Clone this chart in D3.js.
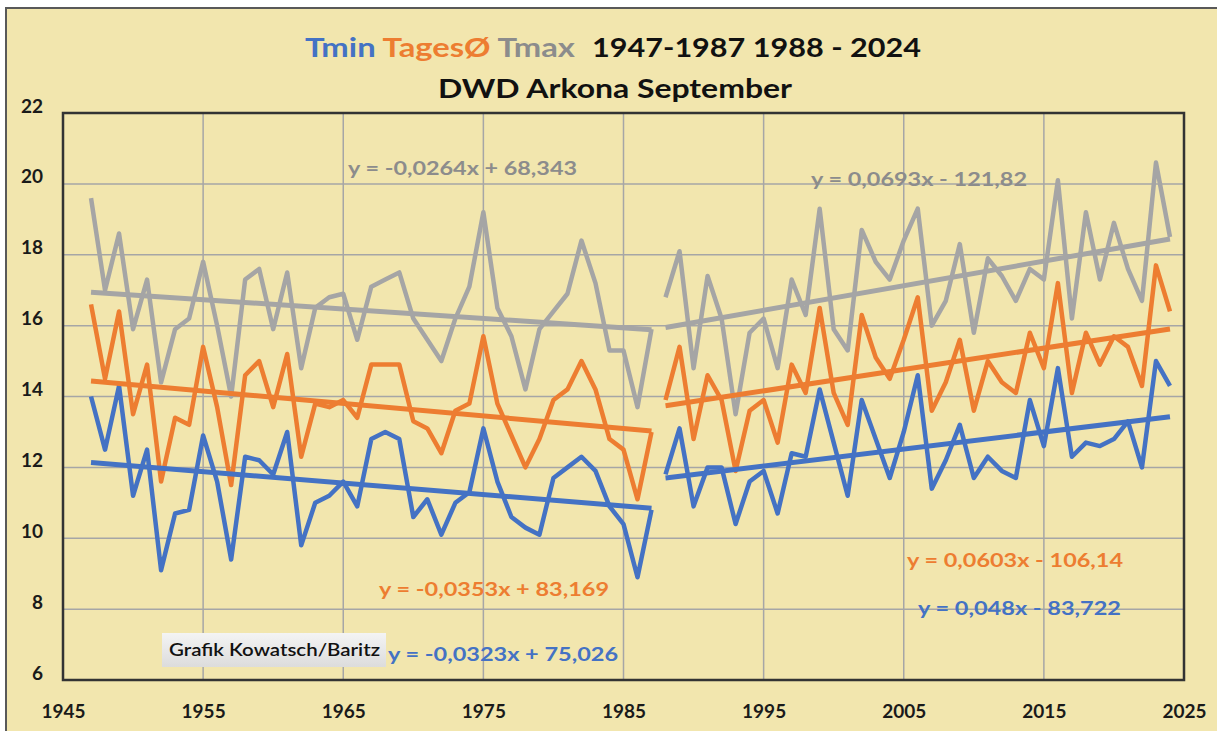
<!DOCTYPE html>
<html>
<head>
<meta charset="utf-8">
<script src="https://cdn.jsdelivr.net/npm/d3@7"></script>
<style>
    html, body { margin: 0; padding: 0; background: #ffffff; }
    svg { display: block; }
</style>
</head>
<body>
<svg id="chart_arkona"></svg>
<script>
// September temperatures, DWD station Arkona
const years1 = d3.range(1947, 1988);
const years2 = d3.range(1988, 2025);

const tmax1 = [19.6, 17.0, 18.6, 15.9, 17.3, 14.4, 15.9, 16.2, 17.8, 16.0,
    14.0, 17.3, 17.6, 15.9, 17.5, 14.8, 16.5, 16.8, 16.9, 15.6,
    17.1, 17.3, 17.5, 16.2, 15.6, 15.0, 16.2, 17.1, 19.2, 16.5,
    15.7, 14.2, 15.9, 16.4, 16.9, 18.4, 17.2, 15.3, 15.3, 13.7, 15.9];
const tavg1 = [16.6, 14.5, 16.4, 13.5, 14.9, 11.6, 13.4, 13.2, 15.4, 13.7,
    11.5, 14.6, 15.0, 13.7, 15.2, 12.3, 13.8, 13.7, 13.9, 13.4,
    14.9, 14.9, 14.9, 13.3, 13.1, 12.4, 13.6, 13.8, 15.7, 13.8,
    12.9, 12.0, 12.8, 13.9, 14.2, 15.0, 14.2, 12.8, 12.5, 11.1, 13.0];
const tmin1 = [14.0, 12.5, 14.3, 11.2, 12.5, 9.1, 10.7, 10.8, 12.9, 11.6,
    9.4, 12.3, 12.2, 11.8, 13.0, 9.8, 11.0, 11.2, 11.6, 10.9,
    12.8, 13.0, 12.8, 10.6, 11.1, 10.1, 11.0, 11.3, 13.1, 11.6,
    10.6, 10.3, 10.1, 11.7, 12.0, 12.3, 11.9, 10.9, 10.4, 8.9, 10.8];

const tmax2 = [16.8, 18.1, 14.8, 17.4, 16.2, 13.5, 15.8, 16.2, 14.8, 17.3,
    16.3, 19.3, 15.9, 15.3, 18.7, 17.8, 17.3, 18.4, 19.3, 16.0,
    16.7, 18.3, 15.8, 17.9, 17.4, 16.7, 17.6, 17.3, 20.1, 16.2,
    19.2, 17.3, 18.9, 17.6, 16.7, 20.6, 18.5];
const tavg2 = [13.9, 15.4, 12.8, 14.6, 13.9, 11.9, 13.6, 13.9, 12.7, 14.9,
    14.1, 16.5, 14.1, 13.2, 16.3, 15.1, 14.5, 15.6, 16.8, 13.6,
    14.4, 15.6, 13.6, 15.0, 14.4, 14.1, 15.8, 14.8, 17.2, 14.1,
    15.8, 14.9, 15.7, 15.4, 14.3, 17.7, 16.4];
const tmin2 = [11.8, 13.1, 10.9, 12.0, 12.0, 10.4, 11.6, 11.9, 10.7, 12.4,
    12.3, 14.2, 12.7, 11.2, 13.9, 12.8, 11.7, 13.0, 14.6, 11.4,
    12.2, 13.2, 11.7, 12.3, 11.9, 11.7, 13.9, 12.6, 14.8, 12.3,
    12.7, 12.6, 12.8, 13.3, 12.0, 15.0, 14.3];

// Trend lines as given in the chart: [slope, intercept]
const tmaxTrend = [[-0.0264, 68.343], [0.0693, -121.82]];
const tavgTrend = [[-0.0353, 83.169], [0.0603, -106.14]];
const tminTrend = [[-0.0323, 75.026], [0.048, -83.722]];

const xTicks = [1945, 1955, 1965, 1975, 1985, 1995, 2005, 2015, 2025];
const yTicks = [6, 8, 10, 12, 14, 16, 18, 20, 22];

const colours = { tmax: "#a5a5a5", tavg: "#ed7d31", tmin: "#4472c4", tmaxText: "#8c8c8c" };

const width = 1217;
const height = 731;
const margin = { top: 113, right: 33, bottom: 51, left: 63 };
const font = "Lato, 'Open Sans', sans-serif";

const svg = d3.select("#chart_arkona")
    .attr("width", width)
    .attr("height", height);

// Yellow chart background with the frame line on top and left
svg.append("rect")
    .attr("x", 6).attr("y", 8)
    .attr("width", width).attr("height", height)
    .attr("fill", "#f2e6ae");
svg.append("path")
    .attr("d", `M6,${height} V8 H${width}`)
    .attr("fill", "none")
    .attr("stroke", "#595959")
    .attr("stroke-width", 2);

const xScale = d3.scaleLinear()
    .domain([1945, 2025])
    .range([margin.left, width - margin.right]);

const yScale = d3.scaleLinear()
    .domain([6, 22])
    .range([height - margin.bottom, margin.top]);

// Grid
svg.selectAll("xGrid")
    .data(xTicks)
    .join("line")
    .attr("x1", d => xScale(d))
    .attr("x2", d => xScale(d))
    .attr("y1", yScale(22))
    .attr("y2", yScale(6))
    .attr("stroke", "#a6a6a6")
    .attr("stroke-width", 1.5);

svg.selectAll("yGrid")
    .data(yTicks)
    .join("line")
    .attr("x1", xScale(1945))
    .attr("x2", xScale(2025))
    .attr("y1", d => yScale(d))
    .attr("y2", d => yScale(d))
    .attr("stroke", "#a6a6a6")
    .attr("stroke-width", 1.5);

// Axes, labels only
const xAxis = svg.append("g")
    .attr("transform", `translate(0, ${yScale(6) + 35})`)
    .call(d3.axisBottom(xScale).tickValues(xTicks).tickFormat(d3.format("d")).tickSize(0));
xAxis.select(".domain").remove();
xAxis.selectAll("text")
    .attr("dy", 0)
    .style("font-family", font)
    .style("font-weight", 700)
    .style("font-size", "19px")
    .attr("fill", "#1a1a1a");

const yAxis = svg.append("g")
    .attr("transform", `translate(${margin.left - 20}, 0)`)
    .call(d3.axisLeft(yScale).tickValues(yTicks).tickSize(0).tickPadding(0));
yAxis.select(".domain").remove();
yAxis.selectAll("text")
    .attr("dy", "-0.05em")
    .style("font-family", font)
    .style("font-weight", 700)
    .style("font-size", "19px")
    .attr("fill", "#1a1a1a");

// Plot border
svg.append("rect")
    .attr("x", xScale(1945))
    .attr("y", yScale(22))
    .attr("width", xScale(2025) - xScale(1945))
    .attr("height", yScale(6) - yScale(22))
    .attr("fill", "none")
    .attr("stroke", "#333333")
    .attr("stroke-width", 2.5);

const lineGenerator = d3.line()
    .x(d => xScale(d[0]))
    .y(d => yScale(d[1]));

const series = [
    { years: years1, values: tmax1, colour: colours.tmax },
    { years: years1, values: tavg1, colour: colours.tavg },
    { years: years1, values: tmin1, colour: colours.tmin },
    { years: years2, values: tmax2, colour: colours.tmax },
    { years: years2, values: tavg2, colour: colours.tavg },
    { years: years2, values: tmin2, colour: colours.tmin },
];

series.forEach(s => {
    svg.append("path")
        .datum(s.years.map((y, i) => [y, s.values[i]]))
        .attr("d", lineGenerator)
        .attr("fill", "none")
        .attr("stroke", s.colour)
        .attr("stroke-width", 4.5)
        .attr("stroke-linejoin", "round");
});

// Linear trends for each period
const trends = [
    { coef: tmaxTrend, colour: colours.tmax },
    { coef: tavgTrend, colour: colours.tavg },
    { coef: tminTrend, colour: colours.tmin },
];
const periods = [years1, years2];

trends.forEach(t => {
    periods.forEach((yrs, p) => {
        const [a, b] = t.coef[p];
        const first = yrs[0];
        const last = yrs[yrs.length - 1];
        svg.append("path")
            .datum([[first, a * first + b], [last, a * last + b]])
            .attr("d", lineGenerator)
            .attr("fill", "none")
            .attr("stroke", t.colour)
            .attr("stroke-width", 5);
    });
});

// Trend equations
function fmt(v) {
    return String(v).replace(".", ",");
}
function equation(coef) {
    const [a, b] = coef;
    const sign = b < 0 ? "-" : "+";
    return `y = ${fmt(a)}x ${sign} ${fmt(Math.abs(b))}`;
}

const labels = [
    { text: equation(tmaxTrend[0]), x: 348, y: 175, w: 229, colour: colours.tmaxText },
    { text: equation(tmaxTrend[1]), x: 811, y: 186, w: 216, colour: colours.tmaxText },
    { text: equation(tavgTrend[0]), x: 379, y: 596, w: 230, colour: colours.tavg },
    { text: equation(tavgTrend[1]), x: 907, y: 567, w: 216, colour: colours.tavg },
    { text: equation(tminTrend[0]), x: 388, y: 661, w: 230, colour: colours.tmin },
    { text: equation(tminTrend[1]), x: 918, y: 615, w: 203, colour: colours.tmin },
];

labels.forEach(l => {
    svg.append("text")
        .attr("x", l.x)
        .attr("y", l.y)
        .attr("textLength", l.w)
        .attr("lengthAdjust", "spacingAndGlyphs")
        .style("font-family", font)
        .style("font-weight", 700)
        .style("font-size", "18px")
        .attr("fill", l.colour)
        .text(l.text);
});

// Author box
const grad = svg.append("defs").append("linearGradient")
    .attr("id", "boxGrad")
    .attr("x1", 0).attr("y1", 0).attr("x2", 0).attr("y2", 1);
grad.append("stop").attr("offset", "0%").attr("stop-color", "#f4f4f4");
grad.append("stop").attr("offset", "100%").attr("stop-color", "#dcdcdc");

svg.append("rect")
    .attr("x", 162).attr("y", 633)
    .attr("width", 224).attr("height", 34)
    .attr("fill", "url(#boxGrad)");
svg.append("text")
    .attr("x", 169).attr("y", 656)
    .attr("textLength", 211)
    .attr("lengthAdjust", "spacingAndGlyphs")
    .style("font-family", font)
    .style("font-weight", 600)
    .style("font-size", "17px")
    .attr("fill", "#111111")
    .text("Grafik Kowatsch/Baritz");

// Title
const title1 = svg.append("text")
    .attr("x", 305).attr("y", 57)
    .attr("textLength", 270)
    .attr("lengthAdjust", "spacingAndGlyphs")
    .style("font-family", font)
    .style("font-weight", 700)
    .style("font-size", "27px");
title1.append("tspan").attr("fill", colours.tmin).text("Tmin ");
title1.append("tspan").attr("fill", colours.tavg).text("TagesØ ");
title1.append("tspan").attr("fill", colours.tmaxText).text("Tmax");

svg.append("text")
    .attr("x", 592).attr("y", 57)
    .attr("textLength", 329)
    .attr("lengthAdjust", "spacingAndGlyphs")
    .style("font-family", font)
    .style("font-weight", 700)
    .style("font-size", "27px")
    .attr("fill", "#111111")
    .text("1947-1987 1988 - 2024");

svg.append("text")
    .attr("x", 438).attr("y", 98)
    .attr("textLength", 354)
    .attr("lengthAdjust", "spacingAndGlyphs")
    .style("font-family", font)
    .style("font-weight", 700)
    .style("font-size", "26px")
    .attr("fill", "#111111")
    .text("DWD Arkona September");
</script>
</body>
</html>
